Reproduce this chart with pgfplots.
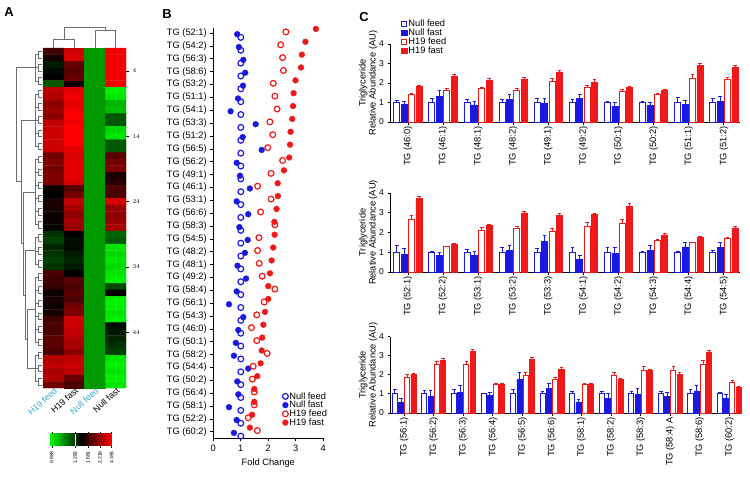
\documentclass[border=0pt]{standalone}
\usepackage{pgfplots}
\usepackage{pgfplotstable}
\pgfplotsset{compat=1.18}
\usepackage{fontspec}
\setmainfont{Liberation Sans}
\setsansfont{Liberation Sans}
\definecolor{myblue}{RGB}{25,25,225}
\definecolor{myred}{RGB}{240,25,25}
\definecolor{labcyan}{RGB}{60,170,215}
\definecolor{dendro}{RGB}{110,110,110}
\newcommand{\fs}{\fontsize{9.3}{10}\selectfont}
\newcommand{\fss}{\fontsize{8.5}{9}\selectfont}

% ---------- Panel C data: mean and error for Null feed, Null fast, H19 feed, H19 fast
\pgfplotstableread{
g nf nfe nfa nfae hf hfe ha hae
1 1.00 0.12 0.91 0.15 1.39 0.06 1.82 0.07
2 1.00 0.20 1.33 0.28 1.61 0.10 2.34 0.12
3 1.00 0.15 0.88 0.20 1.70 0.07 2.12 0.10
4 1.00 0.15 1.15 0.25 1.61 0.10 2.18 0.12
5 1.00 0.22 0.98 0.22 2.10 0.15 2.57 0.10
6 1.00 0.15 1.19 0.25 1.78 0.12 2.06 0.10
7 1.00 0.07 0.82 0.18 1.58 0.07 1.78 0.06
8 1.00 0.05 0.87 0.15 1.42 0.07 1.62 0.06
9 1.00 0.25 0.91 0.20 2.24 0.18 2.92 0.08
10 1.00 0.20 1.07 0.25 2.16 0.15 2.81 0.10
}\tabTop
\pgfplotstableread{
g nf nfe nfa nfae hf hfe ha hae
1 1.00 0.35 0.88 0.30 2.64 0.25 3.73 0.10
2 1.00 0.05 0.85 0.15 1.27 0.05 1.41 0.05
3 1.00 0.15 0.85 0.20 2.10 0.15 2.35 0.08
4 1.00 0.25 1.08 0.25 2.18 0.15 2.99 0.08
5 1.00 0.20 1.54 0.30 2.04 0.15 2.87 0.10
6 1.00 0.25 0.66 0.20 2.30 0.20 2.90 0.08
7 1.00 0.25 0.96 0.28 2.45 0.20 3.35 0.10
8 1.00 0.05 1.09 0.25 1.58 0.08 1.88 0.06
9 1.00 0.05 1.27 0.25 1.47 0.05 1.74 0.05
10 1.00 0.10 1.25 0.25 1.68 0.08 2.23 0.08
}\tabMid
\pgfplotstableread{
g nf nfe nfa nfae hf hfe ha hae
1 1.00 0.25 0.58 0.20 1.87 0.15 2.00 0.05
2 1.00 0.20 0.85 0.35 2.52 0.20 2.76 0.08
3 1.00 0.25 1.09 0.35 2.52 0.20 3.22 0.10
4 1.00 0.05 0.91 0.15 1.49 0.05 1.49 0.05
5 1.00 0.25 1.76 0.35 1.98 0.12 2.79 0.12
6 1.00 0.15 1.27 0.30 1.74 0.10 2.30 0.08
7 1.00 0.15 0.58 0.15 1.49 0.08 1.49 0.05
8 1.00 0.15 0.75 0.25 1.96 0.15 1.78 0.05
9 1.00 0.15 0.97 0.30 2.24 0.20 2.22 0.08
10 1.00 0.15 0.85 0.25 2.22 0.20 2.00 0.12
11 1.00 0.25 1.16 0.30 2.55 0.20 3.19 0.10
12 1.00 0.10 0.75 0.20 1.60 0.12 1.36 0.05
}\tabBot

% ---------- Panel B data (y = row position, top row = 32)
\pgfplotstableread{
y nf nfa hf ha
32 1 0.87 2.64 3.73
31 1 0.93 2.45 3.35
30 1 1.09 2.52 3.22
29 1 1.16 2.55 3.19
28 1 1.08 2.18 2.99
27 1 0.90 2.24 2.92
26 1 0.63 2.32 2.90
25 1 1.54 2.06 2.87
24 1 1.07 2.16 2.81
23 1 1.76 1.98 2.79
22 1 0.85 2.52 2.76
21 1 0.97 2.10 2.57
20 1 1.33 1.61 2.34
19 1 0.85 2.10 2.35
18 1 1.27 1.72 2.30
17 1 0.95 2.24 2.22
16 1 1.25 1.66 2.23
15 1 1.15 1.61 2.18
14 1 0.88 1.67 2.12
13 1 1.19 1.78 2.06
12 1 0.85 2.24 2.00
11 1 0.57 1.85 2.00
10 1 1.09 1.58 1.88
9 1 0.91 1.39 1.82
8 1 0.82 1.58 1.78
7 1 0.75 1.96 1.76
6 1 1.27 1.45 1.72
5 1 0.87 1.42 1.60
4 1 0.91 1.49 1.49
3 1 0.57 1.49 1.49
2 1 0.85 1.27 1.41
1 1 0.75 1.60 1.33
}\tabB

\pgfplotsset{
  cplot/.style={
    scale only axis, width=350pt,
    ymin=0, ymax=4, ytick={0,1,2,3,4},
    axis x line*=bottom, axis y line*=left,
    axis line style={line width=0.9pt},
    tick align=outside, major tick length=2.5pt,
    tick style={line width=0.8pt, black},
    xticklabel style={rotate=90, anchor=east, font=\fs, inner sep=1.5pt},
    yticklabel style={font=\fss},
    /pgf/number format/assume math mode=true,
    ylabel={Triglyceride\\Relative Abundance (AU)},
    ylabel style={align=center, font=\fs, at={(axis description cs:-0.062,0.5)}, anchor=center},
    clip=false,
  },
  cnf/.style={ybar, bar width=0.17, bar shift=0pt, draw=myblue, fill=white, line width=1pt, forget plot,
     error bars/.cd, y dir=plus, y explicit, error bar style={draw=myblue, line width=0.8pt},
     error mark options={draw=myblue, line width=0.8pt, mark size=1.8pt, rotate=90}},
  cnfa/.style={ybar, bar width=0.17, bar shift=0pt, draw=myblue, fill=myblue, line width=0.6pt, forget plot,
     error bars/.cd, y dir=plus, y explicit, error bar style={draw=myblue, line width=0.8pt},
     error mark options={draw=myblue, line width=0.8pt, mark size=1.8pt, rotate=90}},
  chf/.style={ybar, bar width=0.17, bar shift=0pt, draw=myred, fill=white, line width=1pt, forget plot,
     error bars/.cd, y dir=plus, y explicit, error bar style={draw=myred, line width=0.8pt},
     error mark options={draw=myred, line width=0.8pt, mark size=1.8pt, rotate=90}},
  cha/.style={ybar, bar width=0.17, bar shift=0pt, draw=myred, fill=myred, line width=0.6pt, forget plot,
     error bars/.cd, y dir=plus, y explicit, error bar style={draw=myred, line width=0.8pt},
     error mark options={draw=myred, line width=0.8pt, mark size=1.8pt, rotate=90}},
}
\newcommand{\cbars}[1]{%
  \addplot[cnf] table[x expr=\thisrow{g}-0.315, y=nf, y error=nfe]{#1};
  \addplot[cnfa] table[x expr=\thisrow{g}-0.105, y=nfa, y error=nfae]{#1};
  \addplot[chf] table[x expr=\thisrow{g}+0.105, y=hf, y error=hfe]{#1};
  \addplot[cha] table[x expr=\thisrow{g}+0.315, y=ha, y error=hae]{#1};
}

\begin{document}
\begin{tikzpicture}[x=1pt,y=1pt]
\path[use as bounding box] (0,0) rectangle (750,-479);

% panel letters
\node[font=\bfseries\fontsize{13}{14}\selectfont] at (9,-12) {A};
\node[font=\bfseries\fontsize{13}{14}\selectfont] at (167,-14) {B};
\node[font=\bfseries\fontsize{13}{14}\selectfont] at (364,-17) {C};

% ================= Panel A: heatmap =================
\begin{axis}[at={(43pt,-388pt)}, anchor=south west, scale only axis,
  width=83pt, height=340pt,
  xmin=0.5, xmax=4.5, ymin=0.5, ymax=52.5, y dir=reverse,
  axis line style={draw=none}, clip=false,
  xtick={1,2,3,4},
  xticklabels={\textcolor{labcyan}{H19 feed}, H19 fast, \textcolor{labcyan}{Null feed}, Null fast},
  xticklabel style={rotate=42, anchor=east, font=\fontsize{8.8}{9}\selectfont, xshift=4pt, yshift=-0.5pt, inner sep=1pt},
  xtick style={draw=none},
  ytick={4,14,24,34,44}, ytick pos=right, yticklabel pos=right,
  tick align=outside, major tick length=3pt, ytick style={black, line width=0.5pt},
  yticklabel style={font=\fontsize{6.5}{7}\selectfont},
  colormap={hm}{rgb255(0cm)=(0,255,0); rgb255(1cm)=(0,0,0); rgb255(2cm)=(255,0,0)},
  point meta min=-1, point meta max=1,
  colorbar horizontal,
  colorbar style={at={(parent axis.south west)}, anchor=north west, xshift=7pt, yshift=-37pt,
    width=62pt, height=12.3pt,
    xtick={-0.945,-0.19,0.226,0.613,0.99}, xticklabels={0.989,1.282,1.681,2.216,4.395},
    xticklabel style={rotate=90, anchor=east, font=\fontsize{5}{6}\selectfont},
    major tick length=2pt, tick align=outside, axis line style={draw=none},
    tick style={black, line width=0.4pt},
    extra x ticks={-0.18}, extra x tick labels={},
    extra x tick style={grid=major, major grid style={white, line width=1.2pt}, major tick length=0pt},
    axis on top},
]
\addplot[matrix plot*, mesh/cols=4, point meta=explicit] coordinates {
(1,1)[0.25] (2,1)[0.80] (3,1)[-0.6] (4,1)[0.95]
(1,2)[0.10] (2,2)[0.85] (3,2)[-0.6] (4,2)[0.95]
(1,3)[-0.10] (2,3)[0.40] (3,3)[-0.6] (4,3)[0.95]
(1,4)[-0.05] (2,4)[0.35] (3,4)[-0.6] (4,4)[0.95]
(1,5)[0.00] (2,5)[0.40] (3,5)[-0.6] (4,5)[0.95]
(1,6)[-0.35] (2,6)[0.05] (3,6)[-0.6] (4,6)[0.95]
(1,7)[0.75] (2,7)[0.90] (3,7)[-0.6] (4,7)[-0.95]
(1,8)[0.70] (2,8)[0.95] (3,8)[-0.6] (4,8)[-0.90]
(1,9)[0.55] (2,9)[0.90] (3,9)[-0.6] (4,9)[-0.70]
(1,10)[0.60] (2,10)[0.95] (3,10)[-0.6] (4,10)[-0.75]
(1,11)[0.55] (2,11)[1.00] (3,11)[-0.6] (4,11)[-0.35]
(1,12)[0.75] (2,12)[0.95] (3,12)[-0.6] (4,12)[-0.35]
(1,13)[0.80] (2,13)[1.00] (3,13)[-0.6] (4,13)[-0.85]
(1,14)[0.80] (2,14)[1.00] (3,14)[-0.6] (4,14)[-0.90]
(1,15)[0.80] (2,15)[1.00] (3,15)[-0.6] (4,15)[-0.35]
(1,16)[0.80] (2,16)[0.90] (3,16)[-0.6] (4,16)[-0.35]
(1,17)[0.45] (2,17)[0.85] (3,17)[-0.6] (4,17)[0.35]
(1,18)[0.50] (2,18)[0.90] (3,18)[-0.6] (4,18)[0.45]
(1,19)[0.45] (2,19)[0.90] (3,19)[-0.6] (4,19)[0.50]
(1,20)[0.50] (2,20)[0.90] (3,20)[-0.6] (4,20)[0.10]
(1,21)[0.50] (2,21)[0.85] (3,21)[-0.6] (4,21)[0.15]
(1,22)[0.05] (2,22)[0.35] (3,22)[-0.6] (4,22)[0.30]
(1,23)[0.00] (2,23)[0.45] (3,23)[-0.6] (4,23)[0.30]
(1,24)[0.10] (2,24)[0.75] (3,24)[-0.6] (4,24)[0.85]
(1,25)[0.10] (2,25)[0.65] (3,25)[-0.6] (4,25)[0.60]
(1,26)[0.05] (2,26)[0.55] (3,26)[-0.6] (4,26)[0.55]
(1,27)[0.05] (2,27)[0.65] (3,27)[-0.6] (4,27)[0.60]
(1,28)[0.00] (2,28)[0.60] (3,28)[-0.6] (4,28)[0.65]
(1,29)[-0.20] (2,29)[0.00] (3,29)[-0.6] (4,29)[-0.40]
(1,30)[-0.25] (2,30)[-0.05] (3,30)[-0.6] (4,30)[-0.35]
(1,31)[-0.15] (2,31)[-0.05] (3,31)[-0.6] (4,31)[-0.90]
(1,32)[-0.20] (2,32)[-0.10] (3,32)[-0.6] (4,32)[-0.85]
(1,33)[-0.25] (2,33)[-0.15] (3,33)[-0.6] (4,33)[-0.90]
(1,34)[-0.20] (2,34)[-0.10] (3,34)[-0.6] (4,34)[-0.85]
(1,35)[0.30] (2,35)[0.00] (3,35)[-0.6] (4,35)[-0.90]
(1,36)[0.25] (2,36)[0.35] (3,36)[-0.6] (4,36)[-0.95]
(1,37)[0.20] (2,37)[0.30] (3,37)[-0.6] (4,37)[-0.30]
(1,38)[0.05] (2,38)[0.35] (3,38)[-0.6] (4,38)[0.00]
(1,39)[0.10] (2,39)[0.30] (3,39)[-0.6] (4,39)[-0.95]
(1,40)[0.05] (2,40)[0.45] (3,40)[-0.6] (4,40)[-0.95]
(1,41)[0.10] (2,41)[0.50] (3,41)[-0.6] (4,41)[-0.90]
(1,42)[0.25] (2,42)[0.80] (3,42)[-0.6] (4,42)[-0.95]
(1,43)[0.30] (2,43)[0.80] (3,43)[-0.6] (4,43)[-0.05]
(1,44)[0.30] (2,44)[0.75] (3,44)[-0.6] (4,44)[-0.10]
(1,45)[0.35] (2,45)[0.70] (3,45)[-0.6] (4,45)[-0.15]
(1,46)[0.35] (2,46)[0.65] (3,46)[-0.6] (4,46)[-0.20]
(1,47)[0.30] (2,47)[0.55] (3,47)[-0.6] (4,47)[-0.25]
(1,48)[0.70] (2,48)[0.75] (3,48)[-0.6] (4,48)[-0.90]
(1,49)[0.75] (2,49)[0.80] (3,49)[-0.6] (4,49)[-0.95]
(1,50)[0.65] (2,50)[0.75] (3,50)[-0.6] (4,50)[-0.90]
(1,51)[0.70] (2,51)[0.40] (3,51)[-0.6] (4,51)[-0.95]
(1,52)[0.45] (2,52)[0.30] (3,52)[-0.6] (4,52)[-0.90]
};
% column dendrogram
\addplot[dendro, line width=0.5pt, unbounded coords=jump] table {
x y
1 0.5
1 -0.88
2 -0.88
2 0.5
nan nan
1.5 -0.88
1.5 -2.7
3.5 -2.7
3.5 -2.25
nan nan
3 0.5
3 -2.25
4 -2.25
4 0.5
};
% row dendrogram: leaves
\addplot[draw=none, forget plot, error bars/.cd, x dir=minus, x fixed=0.19, error mark=none,
  error bar style={draw=dendro, line width=0.4pt}] coordinates {
(0.45,1)(0.45,2)(0.45,3)(0.45,4)(0.45,5)(0.45,6)(0.45,7)(0.45,8)(0.45,9)(0.45,10)
(0.45,11)(0.45,12)(0.45,13)(0.45,14)(0.45,15)(0.45,16)(0.45,17)(0.45,18)(0.45,19)(0.45,20)
(0.45,21)(0.45,22)(0.45,23)(0.45,24)(0.45,25)(0.45,26)(0.45,27)(0.45,28)(0.45,29)(0.45,30)
(0.45,31)(0.45,32)(0.45,33)(0.45,34)(0.45,35)(0.45,36)(0.45,37)(0.45,38)(0.45,39)(0.45,40)
(0.45,41)(0.45,42)(0.45,43)(0.45,44)(0.45,45)(0.45,46)(0.45,47)(0.45,48)(0.45,49)(0.45,50)
(0.45,51)(0.45,52)};
% row dendrogram: leaf pairs
\addplot[draw=none, forget plot, error bars/.cd, x dir=minus, x fixed=0.14, y dir=both, y fixed=0.5,
  error mark=none, error bar style={draw=dendro, line width=0.4pt}] coordinates {
(0.26,1.5)(0.26,3.5)(0.26,5.5)(0.26,7.5)(0.26,9.5)(0.26,11.5)(0.26,13.5)(0.26,15.5)(0.26,17.5)
(0.26,19.5)(0.26,21.5)(0.26,23.5)(0.26,25.5)(0.26,27.5)(0.26,29.5)(0.26,31.5)(0.26,33.5)
(0.26,35.5)(0.26,37.5)(0.26,39.5)(0.26,41.5)(0.26,43.5)(0.26,45.5)(0.26,47.5)(0.26,49.5)(0.26,51.5)};
% row dendrogram: clusters
\addplot[dendro, line width=0.45pt, unbounded coords=jump] table {
x y
0.12 1.5
0.12 5.5
nan nan
0.12 7.5
0.12 15.5
nan nan
0.12 17.5
0.12 27.5
nan nan
0.12 29.5
0.12 33.5
nan nan
0.12 35.5
0.12 45.5
nan nan
0.12 47.5
0.12 51.5
nan nan
0.12 3.5
-0.80 3.5
-0.80 20.95
-0.55 20.95
nan nan
0.12 11.5
-0.55 11.5
-0.55 30.4
-0.45 30.4
nan nan
0.12 22.5
-0.45 22.5
-0.45 38.25
-0.35 38.25
nan nan
0.12 31.5
-0.35 31.5
-0.35 45
-0.25 45
nan nan
0.12 40.5
-0.25 40.5
-0.25 49.5
0.12 49.5
};
\end{axis}

% ================= Panel B: fold change dot plot =================
\begin{axis}[at={(213.3pt,-438.3pt)}, anchor=south west, scale only axis,
  width=110pt, height=410.3pt,
  xmin=0, xmax=4, ymin=0.5, ymax=32.4,
  axis x line*=bottom, axis y line*=left, axis line style={line width=0.9pt},
  tick align=outside, major tick length=3pt, tick style={black, line width=0.8pt},
  xtick={0,1,2,3,4}, ytick={1,...,32},
  yticklabels={TG (60:2),TG (52:2),TG (58:1),TG (56:4),TG (50:2),TG (54:4),TG (58:2),TG (50:1),
    TG (46:0),TG (54:3),TG (56:1),TG (58:4),TG (49:2),TG (48:1),TG (48:2),TG (54:5),TG (58:3),
    TG (56:6),TG (53:1),TG (46:1),TG (49:1),TG (56:2),TG (56:5),TG (51:2),TG (53:3),TG (54:1),
    TG (51:1),TG (53:2),TG (58:6),TG (56:3),TG (54:2),TG (52:1)},
  ticklabel style={font=\fs},
  /pgf/number format/assume math mode=true,
  xlabel={Fold Change}, xlabel style={font=\fs},
  legend style={at={(axis description cs:0.6,0.12)}, anchor=north west, draw=none, fill=none,
    font=\fs, row sep=-1.5pt, nodes={inner sep=1pt}},
  legend cell align=left,
  clip=false,
]
\addplot[only marks, mark=o, mark size=2.9pt, draw=myblue, mark options={line width=1.2pt}]
  table[x=nf, y expr=\thisrow{y}-0.33]{\tabB};
\addplot[only marks, mark=*, mark size=2.9pt, draw=myblue, fill=myblue]
  table[x=nfa, y expr=\thisrow{y}-0.08]{\tabB};
\addplot[only marks, mark=o, mark size=2.9pt, draw=myred, mark options={line width=1.2pt}]
  table[x=hf, y expr=\thisrow{y}+0.1]{\tabB};
\addplot[only marks, mark=*, mark size=2.9pt, draw=myred, fill=myred]
  table[x=ha, y expr=\thisrow{y}+0.33]{\tabB};
\legend{Null feed, Null fast, H19 feed, H19 fast}
\end{axis}

% ================= Panel C: bar charts =================
\begin{axis}[cplot, at={(390pt,-122pt)}, anchor=south west, height=78pt,
  xmin=0.49, xmax=10.46, xtick={1,...,10},
  xticklabels={TG (46:0),TG (46:1),TG (48:1),TG (48:2),TG (49:1),TG (49:2),TG (50:1),TG (50:2),TG (51:1),TG (51:2)},
  legend style={at={(axis description cs:0.023,1.346)}, anchor=north west, draw=none, fill=none,
    font=\fs, row sep=-1.5pt, nodes={inner sep=1pt}},
  legend cell align=left,
]
\addlegendimage{legend image code/.code={\draw[draw=myblue, fill=white, line width=1pt] (0pt,-2.6pt) rectangle (5.2pt,2.6pt);}}
\addlegendimage{legend image code/.code={\draw[draw=myblue, fill=myblue, line width=0.6pt] (0pt,-2.6pt) rectangle (5.2pt,2.6pt);}}
\addlegendimage{legend image code/.code={\draw[draw=myred, fill=white, line width=1pt] (0pt,-2.6pt) rectangle (5.2pt,2.6pt);}}
\addlegendimage{legend image code/.code={\draw[draw=myred, fill=myred, line width=0.6pt] (0pt,-2.6pt) rectangle (5.2pt,2.6pt);}}
\cbars{\tabTop}
\legend{Null feed, Null fast, H19 feed, H19 fast}
\end{axis}

\begin{axis}[cplot, at={(390pt,-272pt)}, anchor=south west, height=79pt,
  xmin=0.49, xmax=10.46, xtick={1,...,10},
  xticklabels={TG (52:1),TG (52:2),TG (53:1),TG (53:2),TG (53:3),TG (54:1),TG (54:2),TG (54:3),TG (54:4),TG (54:5)},
]
\cbars{\tabMid}
\end{axis}

\begin{axis}[cplot, at={(390pt,-413pt)}, anchor=south west, height=76.5pt,
  xmin=0.52, xmax=12.36, xtick={1,...,12},
  xticklabels={TG (56:1),TG (56:2),TG (56:3),TG (56:4),TG (56:5),TG (56:6),TG (58:1),TG (58:2),TG (58:3),TG (58:4) A,TG (58:6),TG (60:2)},
]
\cbars{\tabBot}
\end{axis}
\end{tikzpicture}
\end{document}
